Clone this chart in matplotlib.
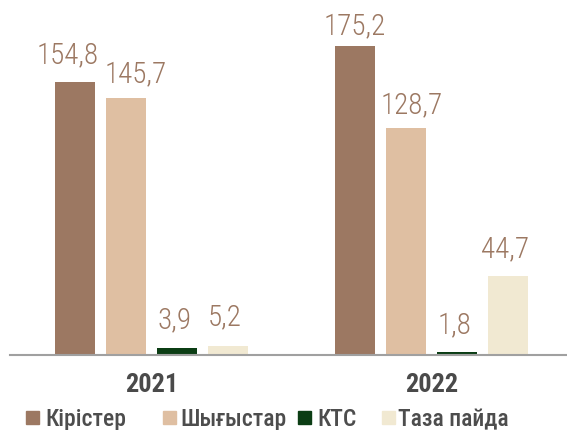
import matplotlib.pyplot as plt
from matplotlib.patches import Rectangle

years = ['2021', '2022']
series = ['Кірістер', 'Шығыстар', 'КТС', 'Таза пайда']
values = {
    'Кірістер': [154.8, 175.2],
    'Шығыстар': [145.7, 128.7],
    'КТС': [3.9, 1.8],
    'Таза пайда': [5.2, 44.7],
}
labels = {
    'Кірістер': ['154,8', '175,2'],
    'Шығыстар': ['145,7', '128,7'],
    'КТС': ['3,9', '1,8'],
    'Таза пайда': ['5,2', '44,7'],
}
colors = ['#9C7862', '#DFBFA2', '#0B3D14', '#F1E9D2']
fonts = ['Roboto Condensed', 'DejaVu Sans']

# сдвиги подписей (dx, зазор над столбцом) в пикселях
nudges = {
    'Кірістер': [(-7, 20), (-0.5, 13)],
    'Шығыстар': [(9.5, 17), (5.5, 16)],
    'КТС': [(-2, 21), (-2, 20)],
    'Таза пайда': [(-3, 22), (-3, 20)],
}

fig = plt.figure(figsize=(5.67, 4.31), dpi=100)
# оси: левый край x=10px, базовая линия на y=356px сверху
ax = fig.add_axes([10 / 567, 75 / 431, 557 / 567, 356 / 431])

step = 0.182
width = 0.143
for i, s in enumerate(series):
    xs = [g + (i - 1.5) * step for g in range(len(years))]
    ax.bar(xs, values[s], width=width, color=colors[i])
    for x, v, t, (dx, dy) in zip(xs, values[s], labels[s], nudges[s]):
        ax.annotate(t, (x, v), xytext=(dx, dy), textcoords='offset pixels',
                    ha='center', va='baseline', fontsize=21,
                    color='#9C7862', family=fonts, fontweight='light')

ax.set_xlim(-0.505, 1.484)
ax.set_ylim(0, 201.8)
for sp in ['top', 'right', 'left']:
    ax.spines[sp].set_visible(False)
ax.spines['bottom'].set_color('#A0A0A0')
ax.spines['bottom'].set_linewidth(1.5)
ax.set_yticks([])
ax.set_xticks([])

# подписи годов
for g, y in enumerate(years):
    ax.annotate(y, (g, 0), xycoords=('data', 'axes fraction'), xytext=(0, -36),
                textcoords='offset pixels', ha='center', va='baseline',
                fontsize=19, fontweight='bold', color='#4A4A4A', family=fonts)

# легенда
sq_x = [26, 163, 298, 382]
tx_x = [45, 180, 317, 398]
for i, s in enumerate(series):
    fig.patches.append(Rectangle((sq_x[i] / 567, 6 / 431), 13 / 567, 13 / 431,
                                 transform=fig.transFigure, color=colors[i]))
    fig.text(tx_x[i] / 567, 5 / 431, s, ha='left', va='baseline', fontsize=17,
             color='#4D4D4D', family=fonts, fontweight='medium')

fig.savefig('out.png', dpi=100)
